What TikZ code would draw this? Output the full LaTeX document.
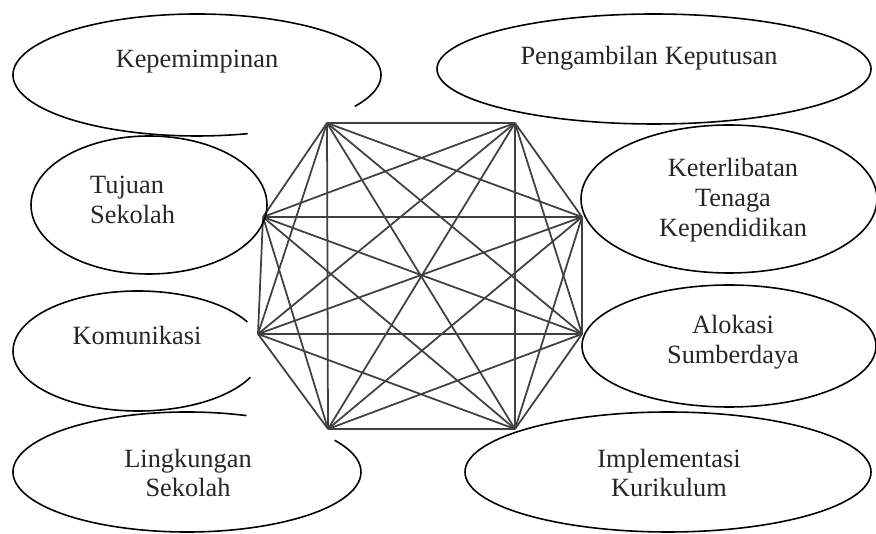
\documentclass[tikz,border=0pt]{standalone}
\usepackage{fontspec}
\setmainfont{Liberation Serif}
\begin{document}
\begin{tikzpicture}[x=0.02cm,y=0.02cm,
    oval/.style={line width=0.9pt},
    link/.style={line width=1pt,black!75},
    lbl/.style={font=\fontsize{15}{17}\selectfont,text=black!85,align=center}]
        \useasboundingbox (0,0) rectangle (876,534);
        % the eight corners
        \coordinate (v1) at (327,411);
        \coordinate (v2) at (515,411);
        \coordinate (v3) at (582,317);
        \coordinate (v4) at (582,200);
        \coordinate (v5) at (515,105);
        \coordinate (v6) at (328,105);
        \coordinate (v7) at (258,200);
        \coordinate (v8) at (263,317);
        \foreach \i in {1,...,7}{
            \pgfmathtruncatemacro{\k}{\i+1}
            \foreach \j in {\k,...,8}
                \draw[link] (v\i) -- (v\j);
        }
        % ellipses
        \draw[oval] (197,459) ++(-31:184 and 61) arc[start angle=-31,end angle=286,x radius=184,y radius=61];
        \draw[oval] (149,329) ellipse (118 and 69);
        \draw[oval] (654,465) ellipse (217 and 55);
        \draw[oval] (729,335) ellipse (148 and 74);
        \draw[oval] (138,183) ++(29:125 and 60) arc[start angle=29,end angle=334,x radius=125,y radius=60];
        \draw[oval] (187,62) ++(70:174 and 60) arc[start angle=70,end angle=392,x radius=174,y radius=60];
        \draw[oval] (729,188) ellipse (147 and 61);
        \draw[oval] (668,62) ellipse (203 and 60);
        % labels
        \node[lbl] (kep) at (197,472) {Kepemimpinan};
        \node[lbl] (peng) at (649,476) {Pengambilan Keputusan};
        \node[lbl,anchor=west,align=left] (tuj) at (84,334) {Tujuan\\Sekolah};
        \node[lbl] (ket) at (733,334) {Keterlibatan\\Tenaga\\Kependidikan};
        \node[lbl] (kom) at (137,199) {Komunikasi};
        \node[lbl] (ling) at (188,61) {Lingkungan\\Sekolah};
        \node[lbl] (alo) at (733,192) {Alokasi\\Sumberdaya};
        \node[lbl] (imp) at (669,61) {Implementasi\\Kurikulum};
    \end{tikzpicture}
\end{document}
